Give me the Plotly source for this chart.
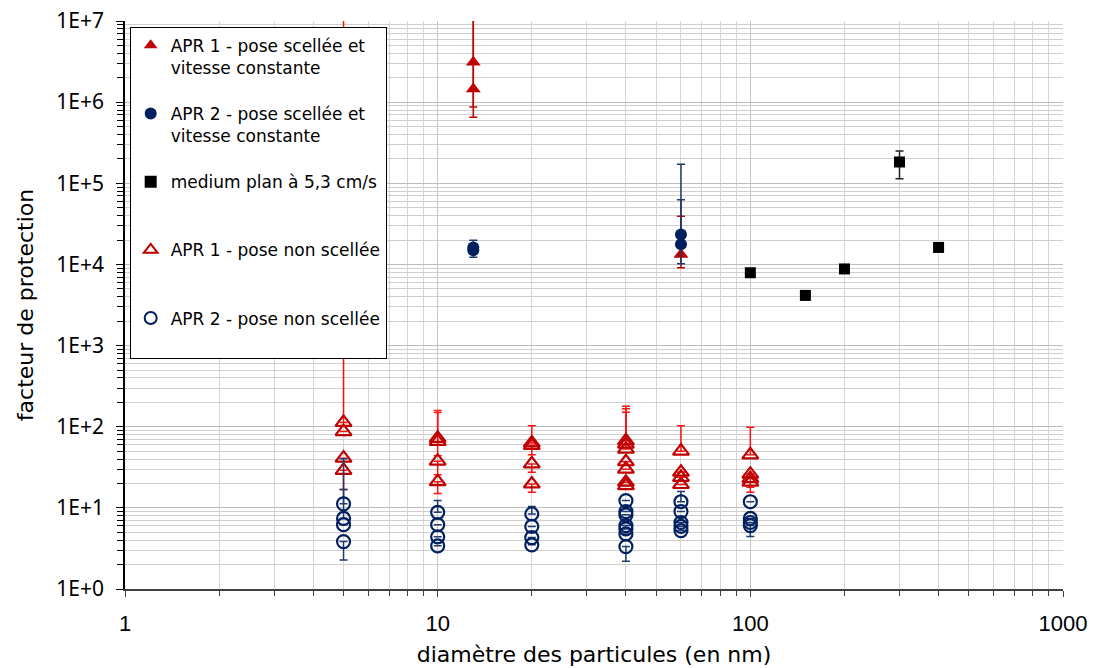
import plotly.graph_objects as go

# ---- data ----
# APR 1 - sealed fit, constant speed (filled red triangles)
apr1_sealed_x = [13, 13, 60]
apr1_sealed_y = [3.1e6, 1.45e6, 1.33e4]
apr1_sealed_plus = [3e7, 2e7, 2.6e4]
apr1_sealed_minus = [2.45e6, 5.8e5, 4.2e3]

# APR 2 - sealed fit, constant speed (filled blue circles)
apr2_sealed_x = [13, 13, 60, 60]
apr2_sealed_y = [1.62e4, 1.5e4, 2.34e4, 1.77e4]
apr2_sealed_plus = [3.7e3, 0, 1.48e5, 4.5e4]
apr2_sealed_minus = [0, 2.7e3, 0, 7.5e3]

# flat medium at 5.3 cm/s (black squares)
medium_x = [100, 150, 200, 300, 400]
medium_y = [7.9e3, 4.15e3, 8.8e3, 1.83e5, 1.62e4]
medium_plus = [0, 0, 0, 6.7e4, 0]
medium_minus = [0, 0, 0, 6.9e4, 0]

# APR 1 - unsealed fit (open red triangles)
apr1_open_x = [5, 5, 5, 5,
               10, 10, 10, 10,
               20, 20, 20, 20,
               40, 40, 40, 40, 40, 40, 40,
               60, 60, 60, 60,
               100, 100, 100, 100]
apr1_open_y = [113, 87, 41, 29,
               72, 66, 37.6, 21,
               63, 59, 34.8, 19.7,
               67, 61, 53, 37, 30, 20.7, 18.8,
               50, 27.5, 23.8, 19.4,
               45, 26, 23, 20.7]
apr1_open_plus = [3e7, 0, 0, 0,
                  86, 84, 0, 0,
                  40, 0, 0, 0,
                  112, 105, 98, 0, 0, 0, 0,
                  53, 0, 0, 0,
                  53.6, 0, 0, 0]
apr1_open_minus = [0, 0, 0, 12.2,
                   13, 22, 12, 6,
                   0, 14, 7.3, 4.1,
                   0, 0, 0, 0, 0, 0, 0,
                   0, 0, 0, 0,
                   0, 0, 5, 5.1]

# APR 2 - unsealed fit (open blue circles)
apr2_open_x = [5, 5, 5, 5,
               10, 10, 10, 10,
               20, 20, 20, 20,
               40, 40, 40, 40, 40, 40, 40,
               60, 60, 60, 60, 60,
               100, 100, 100, 100]
apr2_open_y = [11.2, 7.4, 6.2, 3.84,
               8.8, 6.2, 4.4, 3.4,
               8.4, 5.9, 4.3, 3.5,
               12.3, 9.0, 8.2, 6.05, 5.5, 4.77, 3.33,
               11.9, 9.0, 6.6, 5.9, 5.25,
               11.9, 7.4, 6.6, 6.05]
apr2_open_plus = [5.6, 33, 0, 0,
                  3.5, 0, 0, 0,
                  2.0, 0, 0, 0,
                  0, 0, 0, 0, 0, 0, 0,
                  4, 0, 0, 0, 0,
                  0, 0, 0, 0]
apr2_open_minus = [0, 0, 0, 1.56,
                   0, 0, 0, 0,
                   0, 0, 0, 0,
                   0, 0, 0, 0, 0, 0, 1.13,
                   0, 0, 0, 0, 0,
                   0, 0, 0, 1.6]

x_tick_vals = [1, 10, 100, 1000]
x_tick_text = ["1", "10", "100", "1000"]
y_tick_vals = [1, 10, 100, 1e3, 1e4, 1e5, 1e6, 1e7]
y_tick_text = ["1E+0", "1E+1", "1E+2", "1E+3", "1E+4", "1E+5", "1E+6", "1E+7"]

names = ["APR 1 - pose scellée et<br>vitesse constante",
         "APR 2 - pose scellée et<br>vitesse constante",
         "medium plan à 5,3 cm/s<br> ",
         "APR 1 - pose non scellée<br> ",
         "APR 2 - pose non scellée<br> "]

RED = "#C00000"
RED_ERR = "#FF1010"
NAVY = "#002060"
NAVY_ERR = "#1F3A6E"

def err(plus, minus, color):
    return dict(type="data", symmetric=False, array=plus, arrayminus=minus,
                color=color, thickness=1.5, width=4)

fig = go.Figure()
fig.add_trace(go.Scatter(x=apr1_sealed_x, y=apr1_sealed_y, mode="markers", name=names[0],
                         marker=dict(symbol="triangle-up", size=13, color=RED),
                         error_y=err(apr1_sealed_plus, apr1_sealed_minus, RED),
                         legendgroup="a"))
fig.add_trace(go.Scatter(x=apr2_sealed_x, y=apr2_sealed_y, mode="markers", name=names[1],
                         marker=dict(symbol="circle", size=12, color=NAVY),
                         error_y=err(apr2_sealed_plus, apr2_sealed_minus, NAVY_ERR),
                         legendgroup="b"))
fig.add_trace(go.Scatter(x=medium_x, y=medium_y, mode="markers", name=names[2],
                         marker=dict(symbol="square", size=11, color="black"),
                         error_y=err(medium_plus, medium_minus, "#222222"),
                         legendgroup="c"))
fig.add_trace(go.Scatter(x=apr1_open_x, y=apr1_open_y, mode="markers", name=names[3],
                         marker=dict(symbol="triangle-up-open", size=14, color=RED,
                                     line=dict(width=2.2)),
                         error_y=err(apr1_open_plus, apr1_open_minus, RED_ERR),
                         legendgroup="d"))
fig.add_trace(go.Scatter(x=apr2_open_x, y=apr2_open_y, mode="markers", name=names[4],
                         marker=dict(symbol="circle-open", size=13, color=NAVY,
                                     line=dict(width=2.2)),
                         error_y=err(apr2_open_plus, apr2_open_minus, NAVY_ERR),
                         legendgroup="e"))

x_minor = [m * 10 ** k for k in range(0, 3) for m in range(2, 10)]
y_minor = [m * 10 ** k for k in range(0, 7) for m in range(2, 10)]

# the page adds an 8px body margin, so margins are shifted by 8
fig.update_layout(
    width=1096, height=668,
    margin=dict(l=117, r=41, t=13, b=87),
    paper_bgcolor="white", plot_bgcolor="white",
    font=dict(family="DejaVu Sans", size=17, color="black"),
    showlegend=True,
    legend=dict(x=0.005, y=0.99, xanchor="left", yanchor="top",
                bgcolor="white", bordercolor="black", borderwidth=1,
                font=dict(family="DejaVu Sans", size=17),
                tracegroupgap=21, valign="top", itemsizing="constant"),
    xaxis=dict(type="log", range=[0, 3], automargin=False,
               tickmode="array", tickvals=x_tick_vals, ticktext=x_tick_text,
               tickfont=dict(family="Liberation Sans", size=22),
               ticks="outside", ticklen=6, tickcolor="#404040",
               showgrid=True, gridcolor="#c8c8c8", gridwidth=1,
               showline=True, linecolor="#404040", linewidth=2,
               ticklabelstandoff=8, ticklabeloverflow="allow",
               minor=dict(tickmode="array", tickvals=x_minor, ticks="outside",
                          ticklen=5, tickcolor="#404040",
                          showgrid=True, gridcolor="#d6d6d6", gridwidth=1),
               title=dict(text="diamètre des particules (en nm)",
                          font=dict(family="DejaVu Sans", size=22), standoff=11),
               zeroline=False),
    yaxis=dict(type="log", range=[0, 7], automargin=False,
               tickmode="array", tickvals=y_tick_vals, ticktext=y_tick_text,
               tickfont=dict(family="Noto Sans", size=21),
               ticks="outside", ticklen=7, tickcolor="black",
               showgrid=True, gridcolor="#bdbdbd", gridwidth=1,
               showline=True, linecolor="black", linewidth=1.5,
               ticklabelstandoff=8, ticklabeloverflow="allow",
               minor=dict(tickmode="array", tickvals=y_minor, ticks="outside",
                          ticklen=6, tickcolor="black",
                          showgrid=True, gridcolor="#cfcfcf", gridwidth=1),
               title=dict(text="facteur de protection",
                          font=dict(family="DejaVu Sans", size=22), standoff=17),
               zeroline=False),
)

fig.write_html("out.html")
